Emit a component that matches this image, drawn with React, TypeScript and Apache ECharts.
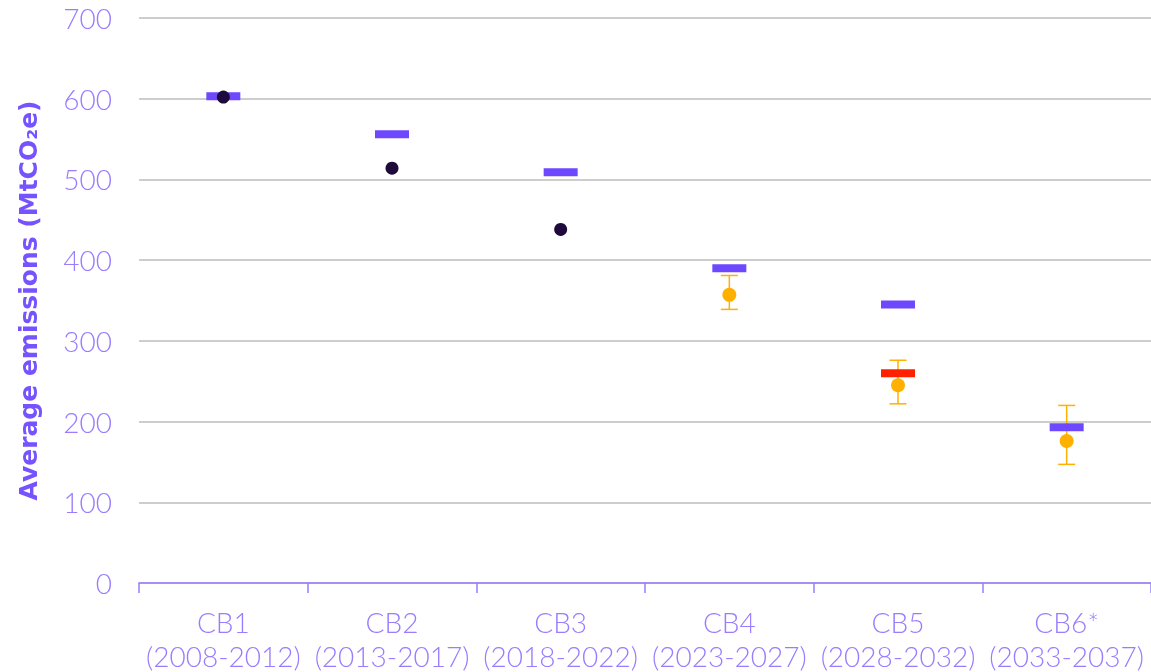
import React, { useEffect, useRef } from "react";
import * as echarts from "echarts";

const categories = [
  "CB1\n(2008-2012)",
  "CB2\n(2013-2017)",
  "CB3\n(2018-2022)",
  "CB4\n(2023-2027)",
  "CB5\n(2028-2032)",
  "CB6*\n(2033-2037)",
];
const budgets = [603, 556, 509, 390, 345, 193];
const adjustedBudget = [null, null, null, null, 260, null];
const actuals = [602, 514, 438, null, null, null];
const projections = [null, null, null, 357, 245, 176];
const projLow = [null, null, null, 339, 222, 147];
const projHigh = [null, null, null, 381, 276, 220];
const yTicks = { min: 0, max: 700, interval: 100 };

const PURPLE = "#6e48ff";
const TEXT = "#9a7cff";
const ORANGE = "#ffb000";
const FONT = "Lato";

export default function App() {
  const ref = useRef<HTMLDivElement>(null);
  useEffect(() => {
    if (!ref.current) return;
    const chart = echarts.init(ref.current, null, { renderer: "svg" });
    const toPts = (arr: (number | null)[]) =>
      arr.map((v, i) => (v == null ? null : [i, v])).filter((d) => d != null);
    const errData = projections
      .map((v, i) => (v == null ? null : [i, projLow[i], projHigh[i]]))
      .filter((d) => d != null);
    chart.setOption({
      animation: false,
      grid: {
        left: 139,
        right: 0,
        top: 18,
        bottom: 89,
        containLabel: false,
        outerBoundsMode: "none",
      },
      xAxis: {
        type: "category",
        data: categories,
        boundaryGap: true,
        axisLine: { lineStyle: { color: TEXT, width: 1.5 } },
        axisTick: { show: true, length: 10, lineStyle: { color: TEXT, width: 1.5 } },
        axisLabel: {
          color: TEXT,
          fontSize: 28,
          lineHeight: 34,
          fontFamily: FONT,
          fontWeight: 300,
          margin: 22,
          interval: 0,
        },
        splitLine: { show: false },
      },
      yAxis: {
        type: "value",
        min: yTicks.min,
        max: yTicks.max,
        interval: yTicks.interval,
        name: "Average emissions (MtCO₂e)",
        nameLocation: "middle",
        nameGap: 98,
        nameTextStyle: {
          color: "#7653ff",
          fontSize: 25,
          fontWeight: "bold",
          fontFamily: "DejaVu Sans",
        },
        axisLine: { show: false },
        axisTick: { show: false },
        axisLabel: {
          color: TEXT,
          fontSize: 28,
          fontFamily: FONT,
          fontWeight: 300,
          margin: 27,
        },
        splitLine: { lineStyle: { color: "#bdbdbd", width: 1.5 } },
      },
      series: [
        {
          type: "custom",
          name: "range",
          data: errData,
          encode: { x: 0, y: [1, 2] },
          renderItem: (params: any, api: any) => {
            const x = api.value(0);
            const lo = api.coord([x, api.value(1)]);
            const hi = api.coord([x, api.value(2)]);
            const half = 8.5;
            const style = { stroke: ORANGE, lineWidth: 1.5 };
            return {
              type: "group",
              children: [
                { type: "line", shape: { x1: lo[0], y1: lo[1], x2: hi[0], y2: hi[1] }, style },
                { type: "line", shape: { x1: lo[0] - half, y1: lo[1], x2: lo[0] + half, y2: lo[1] }, style },
                { type: "line", shape: { x1: hi[0] - half, y1: hi[1], x2: hi[0] + half, y2: hi[1] }, style },
              ],
            };
          },
        },
        {
          type: "scatter",
          name: "Budget",
          data: toPts(budgets),
          symbol: "rect",
          symbolSize: [34, 8],
          itemStyle: { color: PURPLE, opacity: 1 },
        },
        {
          type: "scatter",
          name: "Adjusted budget",
          data: toPts(adjustedBudget),
          symbol: "rect",
          symbolSize: [34, 8],
          itemStyle: { color: "#ff2200", opacity: 1 },
        },
        {
          type: "scatter",
          name: "Projection",
          data: toPts(projections),
          symbol: "circle",
          symbolSize: 14,
          itemStyle: { color: ORANGE, opacity: 1 },
        },
        {
          type: "scatter",
          name: "Actual",
          data: toPts(actuals),
          symbol: "circle",
          symbolSize: 13,
          itemStyle: { color: "#1e0b3b", opacity: 1 },
        },
      ],
    });
    return () => chart.dispose();
  }, []);
  return (
    <div
      ref={ref}
      style={{ width: 1151, height: 672, position: "fixed", left: 0, top: 0 }}
    />
  );
}
